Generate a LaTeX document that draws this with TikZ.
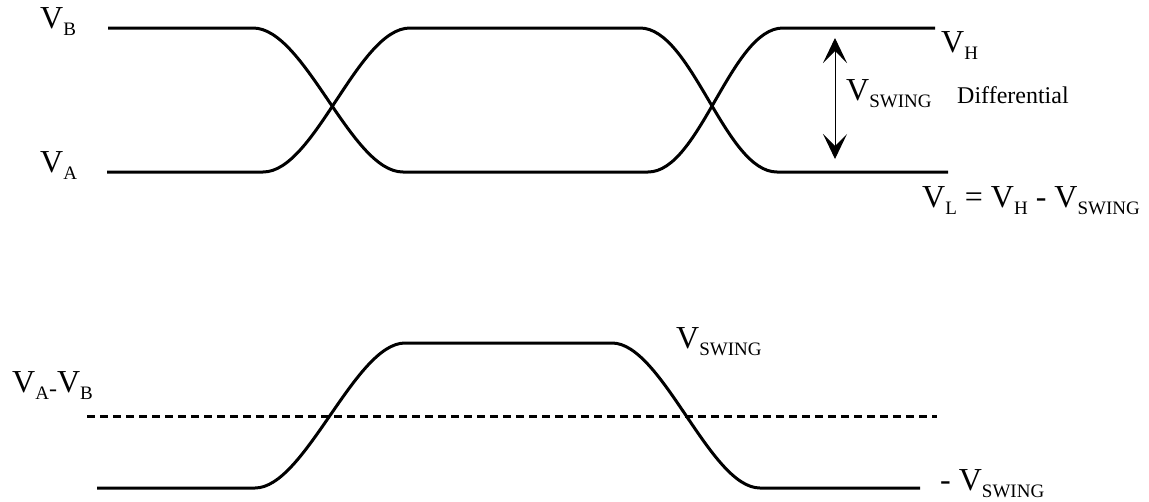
\documentclass[tikz,border=0pt]{standalone}
\usepackage{fontspec}
\setmainfont{Liberation Serif}
\usetikzlibrary{arrows.meta}
\newcommand{\sg}[2]{#1\raisebox{-7pt}{\fontsize{19}{19}\selectfont #2}}

\begin{document}
\begin{tikzpicture}[x=1pt,y=-1pt,
    every node/.style={font=\fontsize{32}{32}\selectfont,inner sep=0pt,anchor=base west},
    trace/.style={line width=3pt},
    swing/.style={line width=1pt,{Stealth[length=25pt,width=24pt,inset=12pt]}-{Stealth[length=25pt,width=24pt,inset=12pt]}}]
    \useasboundingbox (0,0) rectangle (1149,501);

    % Upper pair: V_B starts high
    \draw[trace] (108,28) -- (253,28) .. controls (305,28) and (351,172) .. (403,172)
        -- (648,172) .. controls (700,172) and (731,28) .. (783,28) -- (935,28);
    % V_A starts low
    \draw[trace] (107,172) -- (263,172) .. controls (315,172) and (358,28) .. (410,28)
        -- (640,28) .. controls (692,28) and (725,172) .. (777,172) -- (948,172);

    % Swing arrow
    \coordinate (swtop) at (835,38);
    \coordinate (swbot) at (835,159);
    \draw[swing] (swtop) -- (swbot);

    % Labels of the upper pair
    \node (vb) at (40,28) {\sg{V}{B}};
    \node (va) at (40,172) {\sg{V}{A}};
    \node (vh) at (941,52) {\sg{V}{H}};
    \node (vsw) at (846,100) {\sg{V}{SWING}};
    \node[font=\fontsize{24}{24}\selectfont] (diff) at (957,103) {Differential};
    \node (vl) at (922,207) {\sg{V}{L} = \sg{V}{H} - \sg{V}{SWING}};

    % Difference signal
    \draw[line width=3pt,dash pattern=on 8pt off 5pt] (87,416) -- (937,416);
    \draw[trace] (97,488) -- (255,488) .. controls (305,488) and (355,343) .. (405,343)
        -- (612,343) .. controls (662,343) and (710,488) .. (760,488) -- (920,488);

    % Labels of the difference signal
    \node (vab) at (12,392) {\sg{V}{A}\raisebox{-4pt}{\fontsize{24}{24}\selectfont -}\sg{V}{B}};
    \node (vhi) at (676,348) {\sg{V}{SWING}};
    \node (vlo) at (940,490) {- \sg{V}{SWING}};
\end{tikzpicture}
\end{document}
